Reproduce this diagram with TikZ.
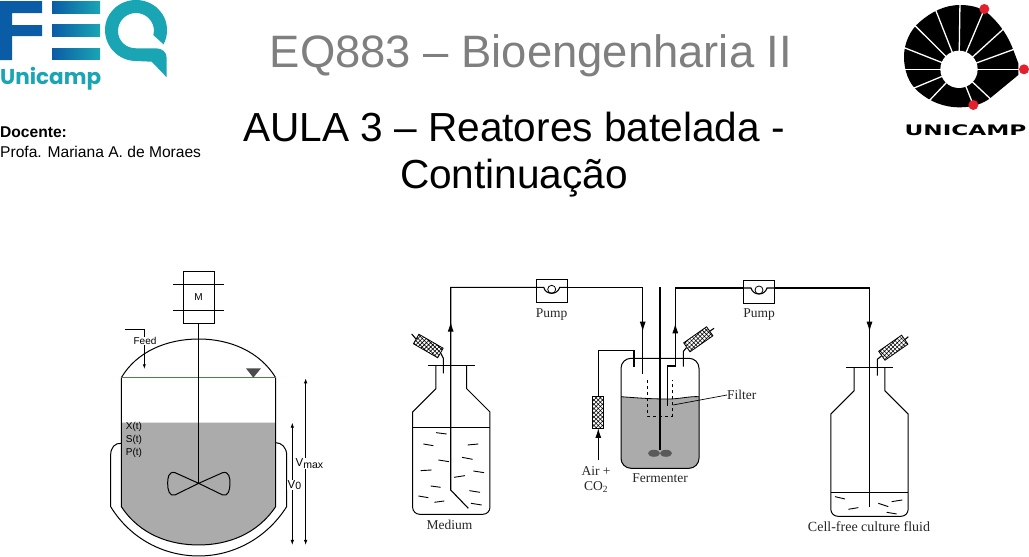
\documentclass[tikz,border=0pt]{standalone}
\usepackage{fontspec}
\setmainfont{Liberation Sans}
\newfontfamily\serifface{Liberation Serif}
\newfontfamily\logoface{Poppins}
\newfontfamily\wideface{DejaVu Sans}
\usetikzlibrary{positioning,arrows.meta,patterns.meta}
\definecolor{feqblue}{HTML}{0B5CA6}
\definecolor{feqteal}{HTML}{1AA5B4}
\definecolor{liquid}{HTML}{ABABAB}
\definecolor{titlegrey}{HTML}{7F7F7F}
\definecolor{logored}{HTML}{E3202C}
\tikzstyle{pipe} = [line width=1.1pt]
\tikzstyle{flow} = [line width=1.1pt, -{Latex[length=10pt,width=6pt]}]
\tikzstyle{thin line} = [line width=1pt]
\tikzstyle{dim} = [line width=0.8pt, {Latex[length=5pt,width=3.5pt]}-{Latex[length=5pt,width=3.5pt]}]
\tikzstyle{pumpbox} = [draw, line width=0.8pt, inner sep=0pt, minimum width=31pt, minimum height=23pt]
\tikzstyle{cartridge} = [draw, line width=0.8pt, inner sep=0pt, pattern={Hatch[angle=45,distance=3pt,line width=0.55pt]}, minimum width=28pt, minimum height=11pt]
\tikzstyle{sans label} = [inner sep=0pt, font=\fontsize{10}{10}\selectfont]
\tikzstyle{serif label} = [inner sep=0pt, font=\serifface\fontsize{13.5}{13.5}\selectfont, text=black!85]
\tikzstyle{title} = [inner sep=0pt, font=\fontsize{45.4}{45.4}\selectfont]
\tikzstyle{subtitle} = [inner sep=0pt, font=\fontsize{40.6}{40.6}\selectfont]
\newcommand{\lowered}[1]{\raisebox{-1.5pt}{\fontsize{10.5}{10.5}\selectfont #1}}
% bottle, in pixels of the zoomed bottle
\newcommand{\bottle}[2]{%
  \begin{scope}[shift={(#1,#2)},x=0.3333pt,y=-0.3333pt]
    \draw[thin line] (-71,0) -- (71,0);
    \draw[thin line] (-46,0) -- (-46,70) -- (-116,140) [rounded corners=7pt] -- (-116,447)
      -- (116,447) [sharp corners] -- (116,140) -- (46,70) -- (46,0);
  \end{scope}
}
\begin{document}
\begin{tikzpicture}[x=1pt,y=-1pt]
  \useasboundingbox (0,0) rectangle (1029,557);

  % FEQ logo
  \fill[feqblue] (0,1) rectangle (42,13) (0,25) rectangle (42,36) (0,1) rectangle (12,60);
  \shade[left color=feqblue,right color=feqteal] (52,1) rectangle (100,13);
  \shade[left color=feqblue,right color=feqteal] (52,24) rectangle (100,36);
  \shade[left color=feqblue,right color=feqteal] (52,48) rectangle (100,59);
  \fill[feqteal] (167,30) .. controls (167,13) and (153,0) .. (136,0)
    .. controls (119,0) and (105,13) .. (105,30) .. controls (105,47) and (119,61) .. (136,61)
    -- (151.7,61.7) -- (166.7,77.3) -- (166.7,58) .. controls (166.7,52) and (162,48.3) .. (156,48.3)
    -- (136,48.3) .. controls (126,48.3) and (118,41) .. (118,31) .. controls (118,21) and (126,13) .. (136,13)
    .. controls (146,13) and (154,21) .. (154,31) -- (153.3,35) -- (163.5,44.3)
    .. controls (166,40) and (167,35) .. (167,30) -- cycle;
  \node[anchor=base west,inner sep=0pt,text=feqteal,font=\logoface\bfseries\fontsize{21.5}{21.5}\selectfont] (feqname) at (0,84.5) {Unicamp};

  % Docente
  \node[anchor=base west,inner sep=0pt,font=\bfseries\fontsize{15.6}{15.6}\selectfont] (docente) at (0,137.5) {Docente:};
  \node[anchor=base west,inner sep=0pt,font=\fontsize{15.6}{15.6}\selectfont] (profa) at (0,157) {Profa. Mariana A. de Moraes};

  % Titles
  \node[title,text=titlegrey] (course) at (531,56) {EQ883 – Bioengenharia II};
  \node[subtitle] (aula) at (514,127) {AULA 3 – Reatores batelada -};
  \node[subtitle] (cont) at (514,178) {Continuação};

  % Unicamp logo
  \begin{scope}[shift={(880,0)},x=0.3333pt,y=-0.3333pt]
    \fill (240,15) .. controls (280,15) and (310,25) .. (335,50) .. controls (365,80) and (385,110) .. (400,150)
      -- (415,190) -- (415,225) -- (330,295) .. controls (310,310) and (280,322) .. (240,322)
      .. controls (190,322) and (150,305) .. (115,275) .. controls (85,250) and (72,210) .. (72,170)
      .. controls (72,130) and (90,90) .. (120,65) .. controls (155,35) and (195,15) .. (240,15) -- cycle;
    \foreach \ex/\ey in {240/5,165/25,100/72,65/140,65/208,100/265,145/305,310/35,378/80,410/145,425/208,335/300,280/315}
      \draw[white,line width=1.3pt] (237,208) -- (\ex,\ey);
    \fill[white] (237,208) circle (56);
    \fill[logored] (313,27) circle (15) (432,208) circle (15) (280,315) circle (15);
  \end{scope}
  \node[inner sep=0pt,font=\wideface\bfseries\fontsize{14.5}{14.5}\selectfont,xscale=1.6] (uniname) at (965.5,130) {UNICAMP};

  % Fed-batch reactor
  \begin{scope}[shift={(100,265)},x=0.3333pt,y=-0.3333pt]
    \fill[liquid] (64,473) -- (64,725) .. controls (120,810) and (210,840) .. (296,840)
      .. controls (380,840) and (470,810) .. (527,725) -- (527,473) -- cycle;
    \draw[thin line] (64,725) -- (64,338) .. controls (110,260) and (200,222) .. (296,222)
      .. controls (390,222) and (480,260) .. (527,338) -- (527,725)
      .. controls (470,810) and (380,840) .. (296,840) .. controls (210,840) and (120,810) .. (64,725);
    \draw[line width=0.8pt,black!50!green!40!gray] (64,338) -- (527,338);
    \draw[thin line] (64,535) .. controls (45,533) and (32,548) .. (32,570) -- (32,725)
      .. controls (90,820) and (190,873) .. (296,873) .. controls (400,873) and (500,820) .. (560,725)
      -- (560,570) .. controls (560,548) and (545,533) .. (527,533);
    \fill[black!70] (438,310) -- (483,310) -- (460,338) -- cycle;

    % Motor and impeller
    \node[draw,thin line,inner sep=0pt,minimum width=31pt,minimum height=52pt,font=\fontsize{10}{10}\selectfont] (motor) at (296,97) {M};
    \coordinate (hub) at (296,655);
    \draw[thin line] (220,58) -- (373,58) (220,136) -- (373,136);
    \draw[line width=1.2pt] (motor.south) -- (hub);
    \draw[thin line] (hub) -- (225,623) .. controls (205,618) and (203,640) .. (203,655)
      .. controls (203,675) and (208,695) .. (225,690) -- (hub) -- (368,623)
      .. controls (388,618) and (390,640) .. (390,655) .. controls (390,675) and (385,695) .. (368,690) -- (hub);

    % Feed
    \coordinate (feedstart) at (75,193);
    \coordinate (feedend) at (133,312);
    \draw[line width=0.7pt,-{Latex[length=4.5pt,width=3pt]}] (feedstart) -| (feedend);
    \node[sans label,fill=white,inner sep=0.5pt] (feed) at (135,228) {Feed};
    \node[sans label,anchor=west] (xt) at (77,487) {X(t)};
    \node[sans label,anchor=west] (st) at (77,524) {S(t)};
    \node[sans label,anchor=west] (pt) at (77,563) {P(t)};

    % Volumes
    \coordinate (vmaxtop) at (617,340);
    \coordinate (vmaxbot) at (617,840);
    \coordinate (vzerotop) at (577,473);
    \coordinate (vzerobot) at (577,840);
    \draw[dim] (vmaxtop) -- (vmaxbot);
    \draw[dim] (vzerotop) -- (vzerobot);
    \node[inner sep=0.5pt,fill=white,anchor=west,font=\fontsize{11.5}{11.5}\selectfont] (vmax) at (585,596) {V\lowered{max}};
    \node[inner sep=0.5pt,fill=white,anchor=west,font=\fontsize{11.5}{11.5}\selectfont] (vzero) at (561,660) {V\lowered{0}};
  \end{scope}

  % Bottles
  \bottle{451.3}{365.3}
  \bottle{869.5}{367.3}
  \draw[line width=1.1pt] (413,427.7) -- (490,427.7);
  \draw[line width=1.1pt] (831,492.3) -- (907.5,492.3);

  % Pumps
  \node[pumpbox] (pumpin) at (551.7,291.3) {};
  \node[pumpbox] (pumpout) at (759,292) {};
  \node[serif label,below=5pt of pumpin] (pumpinlabel) {Pump};
  \node[serif label,below=5pt of pumpout] (pumpoutlabel) {Pump};
  \foreach \p in {pumpin,pumpout} {
    \begin{scope}[shift={(\p.center)}]
      \draw[pipe] (-15.5,-4) -- (-8,-4) .. controls (-6,4) and (6,4) .. (8,-4) -- (15.5,-4);
      \draw[line width=0.8pt] (0,-2) circle (4);
    \end{scope}
  }

  % Medium line
  \coordinate (medfoot) at (468.3,508.3);
  \coordinate (medbend) at (450.7,490);
  \coordinate (medarrow) at (450.7,321.7);
  \coordinate (medtop) at (450.7,287.3);
  \coordinate (ferminend) at (642.7,374);
  \coordinate (ferminarrow) at (642.7,331.7);
  \coordinate (fermintop) at (642.7,287.3);
  \draw[pipe] (medfoot) -- (medbend) -- (medtop) -- (medtop -| pumpin.west);
  \draw[flow] (medbend) -- (medarrow);
  \draw[pipe] (medtop -| pumpin.east) -- (fermintop) -- (ferminend);
  \draw[flow] (fermintop) -- (ferminarrow);

  % Fermenter
  \begin{scope}
    \clip[rounded corners=10pt] (621,358.3) rectangle (699,468.3);
    \fill[liquid] (621,396.7) .. controls (645,398.5) and (655,399) .. (668,399)
      .. controls (680,399) and (690,396) .. (699,396.7) -- (699,470) -- (621,470) -- cycle;
  \end{scope}
  \draw[line width=0.8pt] (621,396.7) .. controls (645,398.5) and (655,399) .. (668,399)
      .. controls (680,399) and (690,396) .. (699,396.7);
  \node[draw,thin line,rounded corners=10pt,inner sep=0pt,minimum width=78pt,minimum height=110pt] (fermenter) at (660,413.3) {};
  \draw[dashed,line width=0.7pt] (647.3,380) -- (647.3,416) -- (672.7,416) -- (672.7,380);

  % Shaft and impeller
  \coordinate (shafttop) at (660,287.3);
  \coordinate (shaftend) at (660,450);
  \draw[pipe] (shafttop) -- (shaftend);
  \fill[black!65] (654,453.3) ellipse (6 and 3.5) (666,453.3) ellipse (6 and 3.5);

  % Outlet line
  \coordinate (outend) at (667.7,406);
  \coordinate (outbend) at (667.7,366);
  \coordinate (outrise) at (675.3,366);
  \coordinate (outarrow) at (675.3,323.3);
  \coordinate (outtop) at (675.3,288);
  \coordinate (harvtop) at (869.5,288);
  \coordinate (harvarrow) at (869.5,331.7);
  \coordinate (harvend) at (869.5,506.7);
  \draw[pipe] (outend) -- (outbend) -- (outrise) -- (outtop) -- (outtop -| pumpout.west);
  \draw[flow] (outrise) -- (outarrow);
  \draw[pipe] (outtop -| pumpout.east) -- (harvtop) -- (harvend);
  \draw[flow] (harvtop) -- (harvarrow);

  % Air line
  \node[cartridge,minimum width=11pt,minimum height=32pt] (airfilter) at (598.3,412.7) {};
  \coordinate (airin) at (598.3,460);
  \coordinate (airend) at (634,366.7);
  \coordinate (aircorner) at (634,350.3);
  \draw[flow] (airin) -- ([yshift=1pt]airfilter.south);
  \draw[pipe] (airfilter.north) |- (aircorner) -- (airend);
  \node[serif label] (airlabel) at (596,471) {Air +};
  \node[serif label] (cotwo) at (596,487) {CO\textsubscript{2}};

  % Filter and labels
  \coordinate (filtertip) at (673,405);
  \node[serif label,anchor=west] (filterlabel) at (727,395) {Filter};
  \draw[line width=0.7pt] (filterlabel.west) -- (filtertip);
  \node[serif label] (fermlabel) at (660,478.5) {Fermenter};
  \node[serif label] (medlabel) at (449.5,524.5) {Medium};
  \node[serif label,font=\serifface\fontsize{14}{14}\selectfont] (harvlabel) at (869,526.5) {Cell-free culture fluid};

  % Vent cartridges
  \node[cartridge,rotate=-30] (ventmed) at (428.3,346) {};
  \node[cartridge,rotate=35] (ventferm) at (698.3,339.3) {};
  \node[cartridge,rotate=35] (ventharv) at (893.3,347.7) {};
  \coordinate (ventmedfree) at (411.7,334);
  \coordinate (ventmedpipe) at (443.3,358.3);
  \coordinate (ventmedend) at (443.3,373.3);
  \draw[pipe] (ventmedfree) -- (ventmed.west);
  \draw[pipe] (ventmed.east) -- (ventmedpipe) -- (ventmedend);
  \coordinate (ventfermfree) at (714,328.3);
  \coordinate (ventfermpipe) at (683.3,351.5);
  \coordinate (ventfermend) at (683.3,366.7);
  \draw[pipe] (ventfermfree) -- (ventferm.east);
  \draw[pipe] (ventferm.west) -- (ventfermpipe) -- (ventfermend);
  \coordinate (ventharvfree) at (908.3,336.7);
  \coordinate (ventharvpipe) at (877.3,359.3);
  \coordinate (ventharvend) at (877.3,375.7);
  \draw[pipe] (ventharvfree) -- (ventharv.east);
  \draw[pipe] (ventharv.west) -- (ventharvpipe) -- (ventharvend);

  % Medium flecks
  \begin{scope}[shift={(400,270)},x=0.3333pt,y=-0.3333pt]
    \foreach \ax/\ay/\bx/\by in {108/488/140/492,70/522/100/527,203/525/235/522,115/570/147/575,186/562/218/568,
      62/602/95/600,220/603/252/608,162/622/195/617,92/648/122/652,208/662/240/667,55/678/85/683,103/697/133/693,213/700/245/705}
      \draw[line width=0.9pt] (\ax,\ay) -- (\bx,\by);
  \end{scope}

  % Harvest flecks
  \begin{scope}[shift={(780,300)},x=0.3333pt,y=-0.3333pt]
    \foreach \ax/\ay/\bx/\by in {165/590/195/597,205/628/235/623,295/610/325/620,335/605/367/600,320/637/350/642}
      \draw[line width=0.9pt] (\ax,\ay) -- (\bx,\by);
  \end{scope}
\end{tikzpicture}
\end{document}
